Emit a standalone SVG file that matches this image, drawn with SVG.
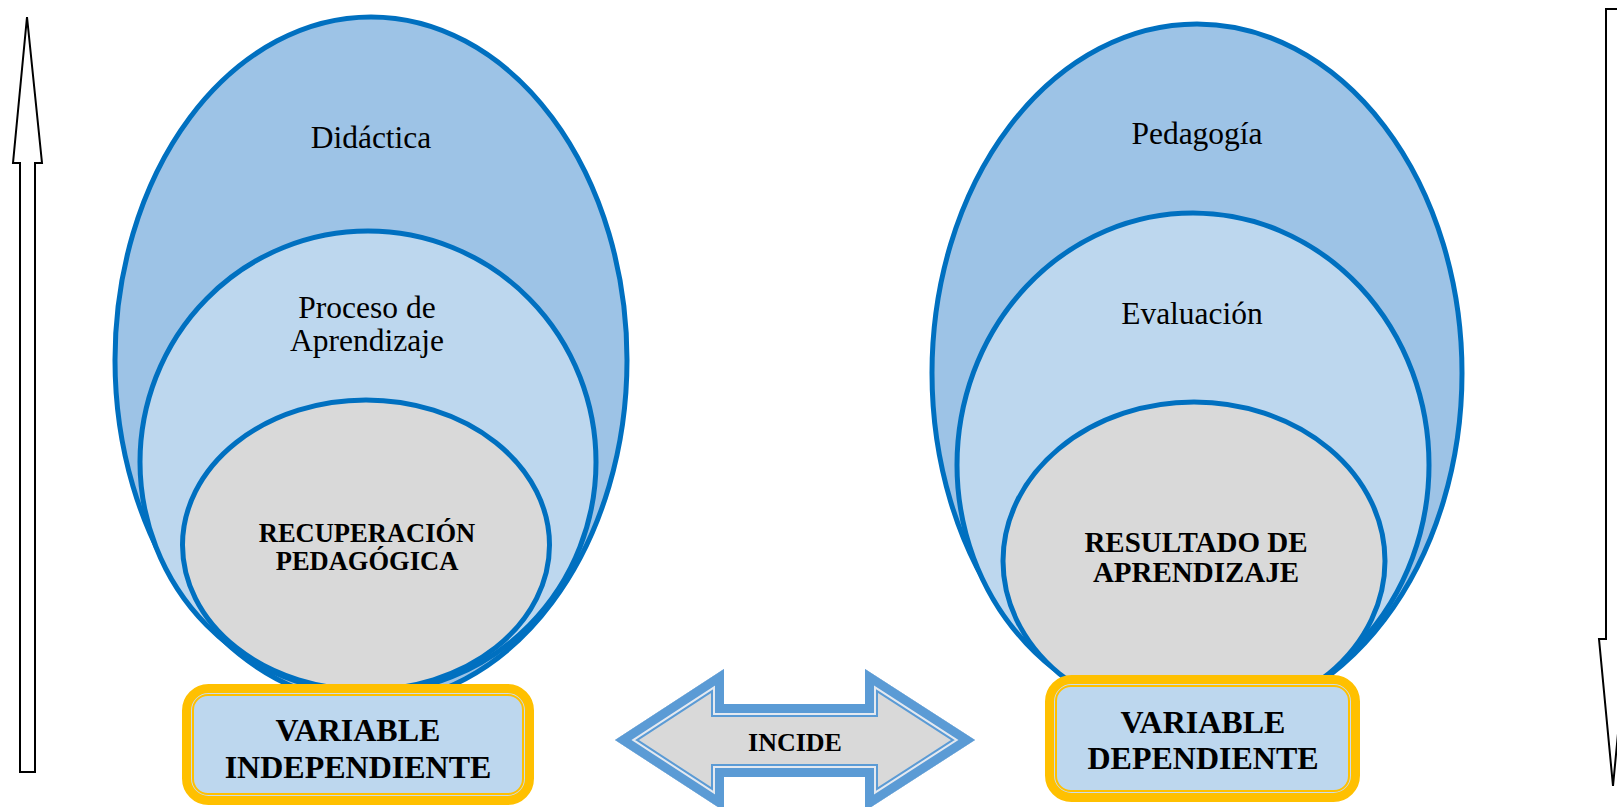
<svg xmlns="http://www.w3.org/2000/svg" width="1617" height="807" viewBox="0 0 1617 807">
<defs>
<style>
.e1{fill:#9DC3E6;stroke:#0070C0;stroke-width:5}
.e2{fill:#BDD7EE;stroke:#0070C0;stroke-width:5}
.e3{fill:#D9D9D9;stroke:#0070C0;stroke-width:5}
.t{font-family:"Liberation Serif","Times New Roman",serif;fill:#000;text-anchor:middle}
.lbl{font-size:31.5px}
.bold{font-weight:bold}
.boxo{fill:#C9DCEE;stroke:#FFC000;stroke-width:9}
.boxi{fill:#BDD7EE;stroke:#FFC000;stroke-width:2}
.varr{fill:#FFFFFF;stroke:#000;stroke-width:2;stroke-linejoin:miter}
</style>
<clipPath id="arrClip"><path id="arrShape" d="M615,740 L724,669 L724,704 L865,704 L865,669 L975,740 L865,811 L865,777 L724,777 L724,811 Z"/></clipPath>
</defs>
<rect width="1617" height="807" fill="#FFFFFF"/>

<g id="connectors">
<polygon class="varr" points="27,17 42,163 35,163 35,772 20,772 20,163 13,163"/>
<polygon class="varr" points="1606,9 1620,9 1620,639 1627,639 1613,786 1599,639 1606,639"/>
<g id="incide" clip-path="url(#arrClip)">
<use href="#arrShape" fill="#D9D9D9" stroke="#5B9BD5" stroke-width="26"/>
<use href="#arrShape" fill="none" stroke="#E4E9F0" stroke-width="22"/>
<use href="#arrShape" fill="none" stroke="#5B9BD5" stroke-width="18"/>
</g>
<text class="t bold" x="795" y="751" font-size="26">INCIDE</text>
</g>

<g id="left-group">
<g id="didactica">
<ellipse class="e1" cx="371" cy="360" rx="256" ry="343"/>
<text class="t lbl" x="371" y="148">Didáctica</text>
</g>
<g id="proceso">
<ellipse class="e2" cx="368" cy="462" rx="228" ry="231"/>
<text class="t lbl" x="367" y="318">Proceso de</text>
<text class="t lbl" x="367" y="351">Aprendizaje</text>
</g>
<g id="recuperacion">
<ellipse class="e3" cx="366" cy="545" rx="183.5" ry="145"/>
<text class="t bold" x="367" y="542" font-size="26.5">RECUPERACIÓN</text>
<text class="t bold" x="367" y="570" font-size="26.5">PEDAGÓGICA</text>
</g>
<g id="var-indep">
<rect class="boxo" x="186.5" y="688.5" width="343" height="112" rx="22"/>
<rect class="boxi" x="193" y="695" width="330" height="99" rx="15"/>
<text class="t bold" x="358" y="741" font-size="32">VARIABLE</text>
<text class="t bold" x="358" y="778" font-size="32">INDEPENDIENTE</text>
</g>
</g>

<g id="right-group">
<g id="pedagogia">
<ellipse class="e1" cx="1197" cy="373" rx="265" ry="349"/>
<text class="t lbl" x="1197" y="144">Pedagogía</text>
</g>
<g id="evaluacion">
<ellipse class="e2" cx="1193" cy="465" rx="236" ry="252"/>
<text class="t lbl" x="1192" y="324">Evaluación</text>
</g>
<g id="resultado">
<ellipse class="e3" cx="1194" cy="561" rx="191" ry="159"/>
<text class="t bold" x="1196" y="552" font-size="29">RESULTADO DE</text>
<text class="t bold" x="1196" y="582" font-size="29">APRENDIZAJE</text>
</g>
<g id="var-dep">
<rect class="boxo" x="1049.5" y="679.5" width="306" height="118" rx="22"/>
<rect class="boxi" x="1056" y="686" width="293" height="105" rx="15"/>
<text class="t bold" x="1203" y="733" font-size="32">VARIABLE</text>
<text class="t bold" x="1203" y="769" font-size="32">DEPENDIENTE</text>
</g>
</g>
</svg>
